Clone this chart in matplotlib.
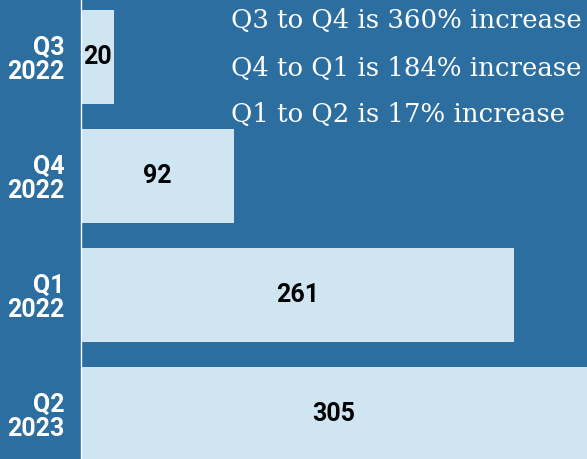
import matplotlib.pyplot as plt

quarters = ['Q3\n2022', 'Q4\n2022', 'Q1\n2022', 'Q2\n2023']
counts = [20, 92, 261, 305]
notes = ['Q3 to Q4 is 360% increase',
         'Q4 to Q1 is 184% increase',
         'Q1 to Q2 is 17% increase']

bg = '#2b6e9f'
bar_color = '#cfe6f2'

fig = plt.figure(figsize=(5.87, 4.59), dpi=100, facecolor=bg)
ax = fig.add_axes([81 / 587, 0, 1 - 81 / 587, 1])
ax.set_facecolor(bg)

pos = list(range(len(quarters)))
ax.barh(pos, counts, height=0.79, color=bar_color)
ax.set_xlim(0, 305)
ax.set_ylim(3.378, -0.479)

for p, v in zip(pos, counts):
    ax.text(v / 2, p, str(v), ha='center', va='center', fontsize=18,
            fontweight='bold', color='black', family='Roboto')

ax.set_yticks(pos)
ax.set_yticklabels(quarters, fontsize=18, fontweight='bold', color='white',
                   family='Roboto', linespacing=1.05)
ax.tick_params(axis='y', length=0, pad=12)
ax.set_xticks([])

for s in ['top', 'right', 'bottom']:
    ax.spines[s].set_visible(False)
ax.spines['left'].set_color('white')
ax.spines['left'].set_linewidth(1)

for i, t in enumerate(notes):
    fig.text(231 / 587, 1 - (21 + 47 * i) / 459, t, ha='left', va='center',
             fontsize=18.7, color='white', family='DejaVu Serif')

fig.savefig('out.png', dpi=100, facecolor=bg)
